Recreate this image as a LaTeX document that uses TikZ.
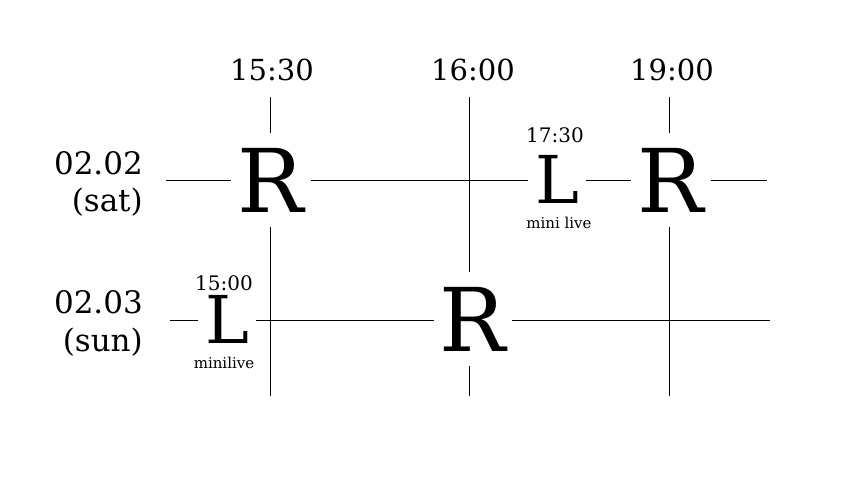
\documentclass[tikz,border=0pt]{standalone}
\usepackage{fontspec}
\setmainfont{DejaVu Serif}
\tikzset{
  grid/.style={line width=0.7pt, black},
  big/.style={inner sep=0pt, font=\fontsize{88}{88}\selectfont},
  mid/.style={inner sep=0pt, font=\fontsize{66}{66}\selectfont},
  lbl/.style={inner sep=0pt, font=\fontsize{29}{32}\selectfont},
  dlbl/.style={inner sep=0pt, font=\fontsize{31}{34}\selectfont},
  sm/.style={inner sep=0pt, font=\fontsize{20}{22}\selectfont},
  tiny/.style={inner sep=0pt, font=\fontsize{15}{17}\selectfont},
}
\begin{document}
\begin{tikzpicture}[x=1pt,y=-1pt]
\useasboundingbox (0,0) rectangle (850,490);
% headers
\node[lbl] (h1) at (272,70) {15:30};
\node[lbl] (h2) at (473,70) {16:00};
\node[lbl] (h3) at (672,70) {19:00};
% dates
\node[dlbl,anchor=east] (d1) at (143,163) {02.02};
\node[dlbl,anchor=east] (d1b) at (143,202) {(sat)};
\node[dlbl,anchor=east] (d2) at (143,302) {02.03};
\node[dlbl,anchor=east] (d2b) at (143,342) {(sun)};
% row 1
\node[big,minimum width=80pt,minimum height=94pt] (R1) at (271,180) {R};
\node[mid,minimum width=58pt] (L1) at (557,179) {L};
\node[big,minimum width=79pt,minimum height=94pt] (R3) at (671,180) {R};
\node[sm] (t1) at (555,135) {17:30};
\node[tiny] (m1) at (559,223) {mini live};
% row 2
\node[mid,minimum width=58pt] (L2) at (227,319) {L};
\node[big,minimum width=78pt,minimum height=94pt] (R2) at (473,319) {R};
\node[sm] (t2) at (224,283) {15:00};
\node[tiny] (m2) at (224,363) {minilive};
% line ends
\coordinate (a1) at (270,97);
\coordinate (a2) at (270,396);
\coordinate (b1) at (469,97);
\coordinate (b2) at (469,396);
\coordinate (c1) at (669,97);
\coordinate (c2) at (669,396);
\coordinate (r1s) at (166,180);
\coordinate (r1e) at (767,180);
\coordinate (r2s) at (170,320);
\coordinate (r2e) at (770,320);
% vertical lines
\draw[grid] (a1) -- (a1 |- R1.north);
\draw[grid] (a2 |- R1.south) -- (a2);
\draw[grid] (b1) -- (b1 |- R2.north);
\draw[grid] (b2 |- R2.south) -- (b2);
\draw[grid] (c1) -- (c1 |- R3.north);
\draw[grid] (c2 |- R3.south) -- (c2);
% horizontal lines
\draw[grid] (r1s) -- (R1.west);
\draw[grid] (R1.east) -- (L1.west |- R1.east);
\draw[grid] (L1.east |- R1.east) -- (R3.west);
\draw[grid] (R3.east) -- (r1e);
\draw[grid] (r2s) -- (L2.west |- r2s);
\draw[grid] (L2.east |- r2s) -- (R2.west |- r2s);
\draw[grid] (R2.east |- r2s) -- (r2e);
\end{tikzpicture}
\end{document}
